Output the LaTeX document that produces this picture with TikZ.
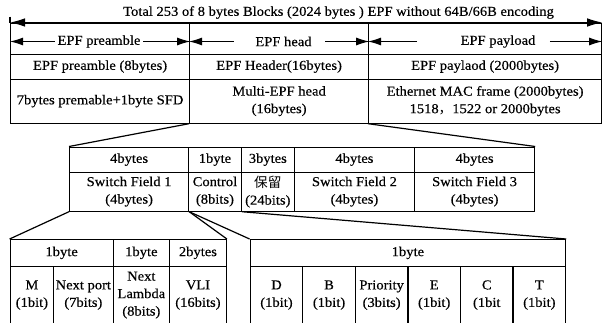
\documentclass[tikz,border=0pt]{standalone}
\usepackage{fontspec}
\setmainfont[FakeStretch=1.07, FakeBold=0.4]{Liberation Serif}
\newfontfamily\cjk{Noto Sans CJK SC}
\usetikzlibrary{arrows.meta, positioning}

\tikzset{
  cell/.style={draw, inner sep=0pt, anchor=north west, align=center},
  sz/.style 2 args={minimum width=#1pt, minimum height=#2pt},
  total/.style={line width=1pt, {Latex[length=15pt,width=8.5pt]}-{Latex[length=15pt,width=8.5pt]}},
  part/.style={line width=1pt, -{Latex[length=13pt,width=8pt]}},
}

\begin{document}
\begin{tikzpicture}[x=1pt, y=-1pt, line width=1.2pt,
    every node/.style={font=\fontsize{13.6}{17.5}\selectfont}]
  \useasboundingbox (0,0) rectangle (602,324);
  \clip (0,0) rectangle (602,322);

  % title
  \node (title) at (338.5,12.5) {Total 253 of 8 bytes Blocks (2024 bytes ) EPF without 64B/66B encoding};

  % EPF frame
  \node[cell, sz={179}{31}] (prerow) at (10,22.5) {};
  \node[cell, sz={179}{31}] (headrow) at (189,22.5) {};
  \node[cell, sz={233}{31}] (payrow) at (368,22.5) {};
  \node[cell, sz={179}{25}] (pre8) at (10,53.5) {EPF preamble (8bytes)};
  \node[cell, sz={179}{25}] (head16) at (189,53.5) {EPF Header(16bytes)};
  \node[cell, sz={233}{25}] (pay2000) at (368,53.5) {EPF paylaod (2000bytes)};
  \node[cell, sz={179}{44}] (sfd) at (10,78.5) {7bytes premable+1byte SFD};
  \node[cell, sz={179}{44}] (multi) at (189,78.5) {Multi-EPF head\\(16bytes)};
  \node[cell, sz={233}{44}] (mac) at (368,78.5) {Ethernet MAC frame (2000bytes)\\1518{\cjk ，}1522 or 2000bytes};

  \coordinate (tick) at (10,16.5);
  \draw (tick) -- (prerow.north west);
  \draw[total] (prerow.north west) -- (payrow.north east);

  \node[inner sep=2pt] (pretxt) at (99,41.5) {EPF preamble};
  \draw[part] (pretxt.west) -- (pretxt.west -| prerow.west);
  \draw[part] (pretxt.east) -- (pretxt.east -| prerow.east);
  \node[inner sep=0pt] (headtxt) at (283.5,41.5) {EPF head};
  \draw[part] ([xshift=-21pt]headtxt.west) -- (headtxt.west -| headrow.west);
  \draw[part] ([xshift=13pt]headtxt.east) -- (headtxt.east -| headrow.east);
  \node[inner sep=0pt] (paytxt) at (498,41.5) {EPF payload};
  \draw[part] ([xshift=-43pt]paytxt.west) -- (paytxt.west -| payrow.west);
  \draw[part] ([xshift=14pt]paytxt.east) -- (paytxt.east -| payrow.east);

  % multi-EPF head
  \node[cell, sz={119}{25}] (sf1top) at (69,146.5) {4bytes};
  \node[cell, sz={52.7}{25}] (ctltop) at (188,146.5) {1byte};
  \node[cell, sz={53}{25}] (restop) at (240.7,146.5) {3bytes};
  \node[cell, sz={120.3}{25}] (sf2top) at (293.7,146.5) {4bytes};
  \node[cell, sz={120}{25}] (sf3top) at (414,146.5) {4bytes};
  \node[cell, sz={119}{39}] (sf1) at (69,171.5) {Switch Field 1\\(4bytes)};
  \node[cell, sz={52.7}{39}] (ctl) at (188,171.5) {Control\\(8bits)};
  \node[cell, sz={53}{39}] (res) at (240.7,171.5) {{\cjk 保留}\\(24bits)};
  \node[cell, sz={120.3}{39}] (sf2) at (293.7,171.5) {Switch Field 2\\(4bytes)};
  \node[cell, sz={120}{39}] (sf3) at (414,171.5) {Switch Field 3\\(4bytes)};

  \draw (multi.south west) -- (sf1top.north west);
  \draw (mac.south west) -- (sf3top.north east);

  % switch field 1
  \node[cell, sz={102.9}{26.5}] (porttop) at (9.6,239) {1byte};
  \node[cell, sz={56.5}{26.5}] (lambdatop) at (112.5,239) {1byte};
  \node[cell, sz={56.7}{26.5}] (vlitop) at (169,239) {2bytes};
  \node[cell, sz={43.4}{58}] (mbit) at (9.6,265.5) {M\\(1bit)};
  \node[cell, sz={59.5}{58}] (port) at (53,265.5) {Next port\\(7bits)};
  \node[cell, sz={56.5}{58}] (lambda) at (112.5,265.5) {Next\\Lambda\\(8bits)};
  \node[cell, sz={56.7}{58}] (vli) at (169,265.5) {VLI\\(16bits)};

  % control
  \node[cell, sz={315.4}{26.5}] (ctlbyte) at (249.6,239) {1byte};
  \foreach \txt [count=\i from 0] in {{D\\(1bit)}, {B\\(1bit)}, {Priority\\(3bits)}, {E\\(1bit)}, {C\\(1bit}, {T\\(1bit)}}
    \node[cell, sz={52.57}{58}] (flag\i) at (249.6+52.57*\i,265.5) {\txt};

  \draw (sf1.south west) -- (porttop.north west);
  \draw (sf1.south east) -- (vlitop.north east);
  \draw (sf1.south east) -- (ctlbyte.north west);
  \draw (ctl.south east) -- (ctlbyte.north east);
\end{tikzpicture}
\end{document}
